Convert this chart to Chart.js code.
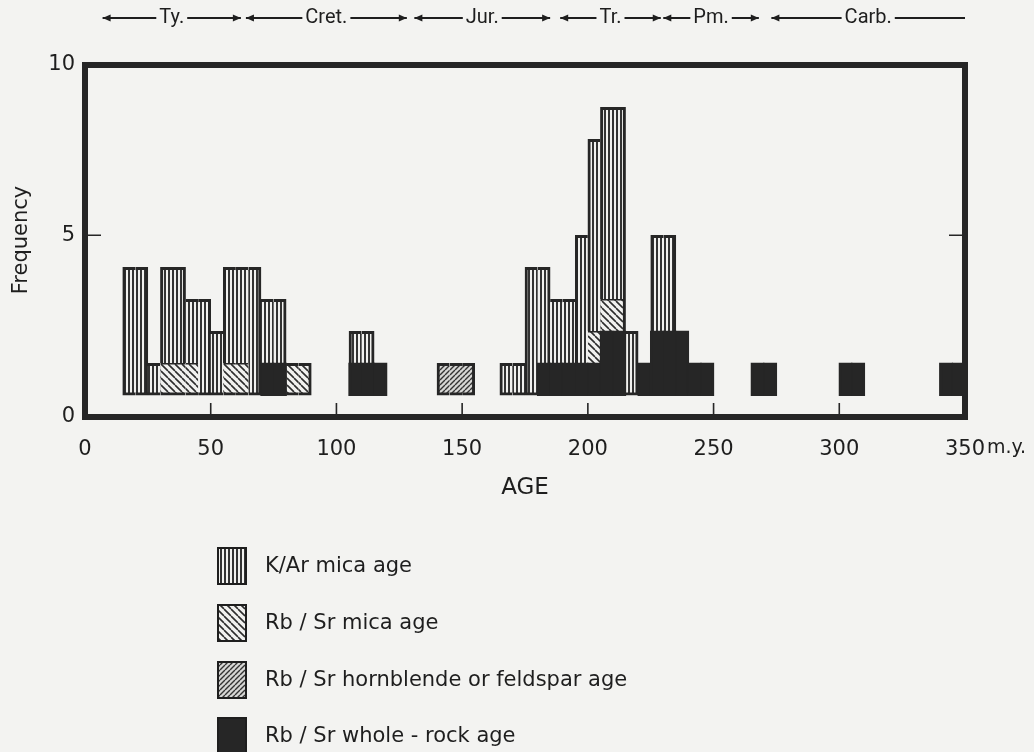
<!DOCTYPE html>
<html>
<head>
<meta charset="utf-8">
<script src="https://cdn.jsdelivr.net/npm/chart.js@4.4.1/dist/chart.umd.min.js"></script>
<style>
  html, body { margin: 0; padding: 0; background: #f3f3f1; }
  canvas { display: block; }
</style>
</head>
<body>
<canvas id="chart" width="1034" height="752"></canvas>
<script>
// ─── Data ────────────────────────────────────────────────────────────────────
// 5 m.y. age bins, keyed by their lower edge (m.y.)
const binStart  = [15, 20, 25, 30, 35, 40, 45, 50, 55, 60, 65, 70, 75, 80, 85,
                   105, 110, 115, 140, 145, 150, 165, 170, 175, 180, 185, 190, 195,
                   200, 205, 210, 215, 220, 225, 230, 235, 240, 245, 265, 270,
                   300, 305, 340, 345];
const kArMica   = [4, 4, 1, 3, 3, 2, 3, 2, 3, 3, 4, 2, 2, 0, 0,
                   1, 1, 0, 0, 0, 0, 1, 1, 4, 3, 2, 2, 4,
                   6, 6, 6, 2, 0, 3, 3, 0, 0, 0, 0, 0,
                   0, 0, 0, 0];
const rbSrMica  = [0, 0, 0, 1, 1, 1, 0, 0, 1, 1, 0, 0, 0, 1, 1,
                   0, 0, 0, 0, 0, 0, 0, 0, 0, 0, 0, 0, 0,
                   1, 1, 1, 0, 0, 0, 0, 0, 0, 0, 0, 0,
                   0, 0, 0, 0];
const rbSrHbl   = [0, 0, 0, 0, 0, 0, 0, 0, 0, 0, 0, 0, 0, 0, 0,
                   0, 0, 0, 1, 1, 1, 0, 0, 0, 0, 0, 0, 0,
                   0, 0, 0, 0, 0, 0, 0, 0, 0, 0, 0, 0,
                   0, 0, 0, 0];
const rbSrWhole = [0, 0, 0, 0, 0, 0, 0, 0, 0, 0, 0, 1, 1, 0, 0,
                   1, 1, 1, 0, 0, 0, 0, 0, 0, 1, 1, 1, 1,
                   1, 2, 2, 0, 1, 2, 2, 2, 1, 1, 1, 1,
                   1, 1, 1, 1];

const seriesLabels = ['K/Ar mica age', 'Rb / Sr mica age',
                      'Rb / Sr hornblende or feldspar age', 'Rb / Sr whole - rock age'];

// geological periods along the top (m.y.)
const periodNames = ['Ty.', 'Cret.', 'Jur.', 'Tr.', 'Pm.', 'Carb.'];
const periodFrom  = [7, 64, 131, 189, 230, 273];
const periodTo    = [62, 128, 185, 229, 268, 350];

const xTickMarks = [50, 100, 150, 200, 250, 300];
const yTickAt    = [-0.68, 5, 10.32];
const yTickText  = ['0', '5', '10'];

// ─── Patterns ────────────────────────────────────────────────────────────────
const INK   = '#262626';
const PAPER = '#f1f1ef';
const FONT  = '"DejaVu Sans", sans-serif';

function makePattern(size, paint) {
  const c = document.createElement('canvas');
  c.width = size; c.height = size;
  const g = c.getContext('2d');
  paint(g, size);
  return g.createPattern(c, 'repeat');
}

const stripeFill = makePattern(4, (g, s) => {
  g.fillStyle = PAPER; g.fillRect(0, 0, s, s);
  g.fillStyle = '#333'; g.fillRect(0, 0, 2, s);
});
const micaFill = makePattern(7, (g, s) => {
  g.fillStyle = PAPER; g.fillRect(0, 0, s, s);
  g.strokeStyle = '#2d2d2d'; g.lineWidth = 1.6;
  g.beginPath();
  for (const o of [-s, 0, s]) { g.moveTo(o, 0); g.lineTo(o + s, s); }
  g.stroke();
});
const hblFill = makePattern(5, (g, s) => {
  g.fillStyle = '#d6d6d4'; g.fillRect(0, 0, s, s);
  g.strokeStyle = '#333'; g.lineWidth = 1.4;
  g.beginPath();
  for (const o of [-s, 0, s]) { g.moveTo(o, s); g.lineTo(o + s, 0); }
  g.stroke();
});
const wholeFill = INK;

// ─── Stack helpers (bottom → top) ────────────────────────────────────────────
const layers = [rbSrWhole, rbSrHbl, rbSrMica, kArMica];
const totals = binStart.map((_, i) => layers.reduce((s, l) => s + l[i], 0));

function totalAt(age) {
  const j = binStart.indexOf(age);
  return j < 0 ? 0 : totals[j];
}

// outline only the outer envelope of the histogram (plus the top of each layer)
function edgeWidths(ctx) {
  const i = ctx.dataIndex, d = ctx.datasetIndex;
  const v = layers[d][i];
  if (!v) return 0;
  let base = 0;
  for (let k = 0; k < d; k++) base += layers[k][i];
  const top = base + v;
  // solid whole-rock blocks get a hairline side so neighbours overlap (no seams)
  const side = d === 0 ? 1 : 0;
  return {
    top:    top === totals[i] ? 3 : 1.5,
    bottom: base === 0 ? 3 : 0,
    left:   totalAt(binStart[i] - 5) < top ? 3 : side,
    right:  totalAt(binStart[i] + 5) < top ? 3 : side,
  };
}

function points(arr) {
  return binStart.map((b, i) => ({ x: b + 2.5, y: arr[i] || null }));
}

const fills = [wholeFill, hblFill, micaFill, stripeFill];
const labelsBottomUp = [seriesLabels[3], seriesLabels[2], seriesLabels[1], seriesLabels[0]];

const datasets = layers.map((arr, d) => ({
  label: labelsBottomUp[d],
  data: points(arr),
  backgroundColor: fills[d],
  borderColor: INK,
  borderWidth: edgeWidths,
  borderSkipped: false,
  inflateAmount: d === 0 ? 0.8 : 0.33,
  barPercentage: 1,
  categoryPercentage: 1,
}));

// ─── Decorations: frame, ticks, titles, period arrows, legend ───────────────
function arrowHead(g, x, y, dir) {
  g.beginPath();
  g.moveTo(x, y);
  g.lineTo(x - dir * 8, y - 3.5);
  g.lineTo(x - dir * 8, y + 3.5);
  g.closePath();
  g.fill();
}

const decor = {
  id: 'decor',
  beforeDraw(chart) {
    const g = chart.ctx;
    g.save();
    g.fillStyle = '#f3f3f1';
    g.fillRect(0, 0, chart.width, chart.height);
    g.restore();
  },
  afterDatasetsDraw(chart) {
    const g = chart.ctx;
    const { left, right, top, bottom } = chart.chartArea;
    const xs = chart.scales.x, ys = chart.scales.y;
    g.save();
    g.strokeStyle = INK;
    g.lineWidth = 6;
    g.strokeRect(left, top, right - left, bottom - top);

    g.lineWidth = 1.6;
    g.beginPath();
    xTickMarks.forEach(v => {
      const x = xs.getPixelForValue(v);
      g.moveTo(x, bottom - 3);
      g.lineTo(x, bottom - 14);
    });
    const y5 = ys.getPixelForValue(5);
    g.moveTo(left + 3, y5);  g.lineTo(left + 16, y5);
    g.moveTo(right - 3, y5); g.lineTo(right - 16, y5);
    g.stroke();
    g.restore();
  },
  afterDraw(chart) {
    const g = chart.ctx;
    const { left, right } = chart.chartArea;
    const xs = chart.scales.x;
    g.save();
    g.fillStyle = '#1e1e1e';
    g.strokeStyle = '#1e1e1e';

    // m.y. unit after the last tick label
    g.font = `19px ${FONT}`;
    g.textAlign = 'left';
    g.textBaseline = 'middle';
    g.fillText('m.y.', xs.getPixelForValue(350) + 22, 448);

    // axis titles
    g.font = `23px ${FONT}`;
    g.textAlign = 'center';
    g.fillText('AGE', (left + right) / 2, 488);

    g.save();
    g.translate(22, 240);
    g.rotate(-Math.PI / 2);
    g.font = `21px ${FONT}`;
    g.fillText('Frequency', 0, 0);
    g.restore();

    // geological periods
    g.font = '20px Roboto, sans-serif';
    g.lineWidth = 1.8;
    const py = 18;
    periodNames.forEach((name, i) => {
      const x1 = xs.getPixelForValue(periodFrom[i]);
      const x2 = xs.getPixelForValue(periodTo[i]);
      const cx = (x1 + x2) / 2;
      const w = g.measureText(name).width;
      g.fillText(name, cx, py);
      g.beginPath();
      g.moveTo(x1, py); g.lineTo(cx - w / 2 - 3, py);
      g.moveTo(cx + w / 2 + 3, py); g.lineTo(x2, py);
      g.stroke();
      arrowHead(g, x1, py, -1);
      if (i < periodNames.length - 1) arrowHead(g, x2, py, 1);
    });

    // legend
    const legendFills = [stripeFill, micaFill, hblFill, wholeFill];
    const legendTops = [548, 605, 662, 718];
    g.font = `21px ${FONT}`;
    g.textAlign = 'left';
    seriesLabels.forEach((lab, i) => {
      const y0 = legendTops[i];
      g.fillStyle = legendFills[i];
      g.fillRect(218, y0, 28, 36);
      g.lineWidth = 2;
      g.strokeRect(218, y0, 28, 36);
      g.fillStyle = '#1e1e1e';
      g.fillText(lab, 265, y0 + 19);
    });
    g.restore();
  },
};

// ─── Chart ───────────────────────────────────────────────────────────────────
new Chart(document.getElementById('chart').getContext('2d'), {
  type: 'bar',
  data: { datasets },
  options: {
    responsive: false,
    animation: false,
    layout: { padding: { top: 65, right: 69, left: 0, bottom: 0 } },
    plugins: {
      legend: { display: false },
      tooltip: { enabled: false },
    },
    scales: {
      x: {
        type: 'linear',
        min: 0,
        max: 350,
        offset: false,
        stacked: true,
        grid: { display: false, drawTicks: false },
        border: { display: false },
        ticks: {
          stepSize: 50,
          autoSkip: false,
          maxRotation: 0,
          padding: 20,
          color: '#1e1e1e',
          font: { family: FONT, size: 21 },
        },
        afterFit: s => { s.height = 335; },
      },
      y: {
        min: -0.68,
        max: 10.32,
        stacked: true,
        grid: { display: false, drawTicks: false },
        border: { display: false },
        afterBuildTicks: s => { s.ticks = yTickAt.map(v => ({ value: v })); },
        ticks: {
          padding: 10,
          color: '#1e1e1e',
          font: { family: FONT, size: 21 },
          callback: (v, i) => yTickText[i],
        },
        afterFit: s => { s.width = 85; },
      },
    },
  },
  plugins: [decor],
});
</script>
</body>
</html>
